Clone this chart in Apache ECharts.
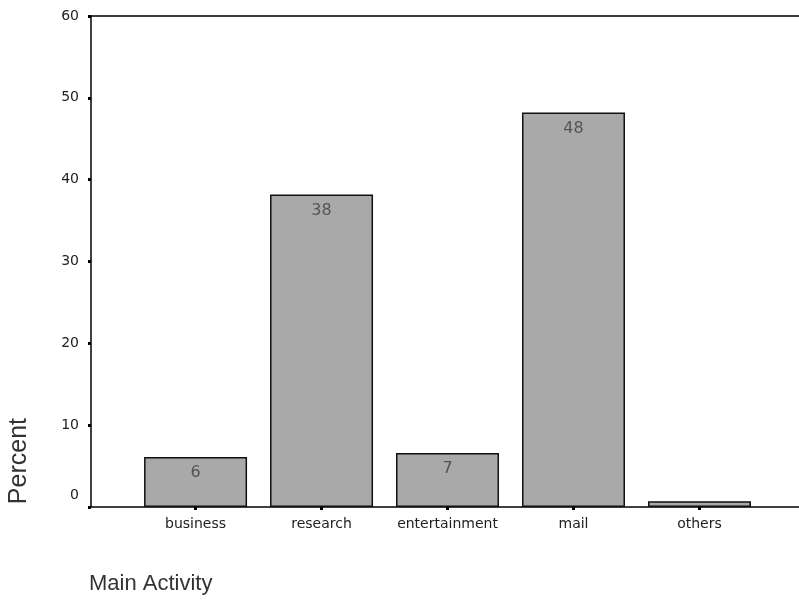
<!DOCTYPE html>
<html><head><meta charset="utf-8">
<script src="https://cdn.jsdelivr.net/npm/echarts@6/dist/echarts.min.js"></script>
<style>html,body{margin:0;padding:0;background:#fff}#c{width:799px;height:603px}</style>
</head><body><div id="c"></div>
<script>
const categories = ['business', 'research', 'entertainment', 'mail', 'others'];
const percentValues = [6.1, 38.2, 6.6, 48.2, 0.7];
const yTicks = [0, 10, 20, 30, 40, 50, 60];
const positions = categories.map((c, i) => i + 1);

const chart = echarts.init(document.getElementById('c'));
const font = 'DejaVu Sans, sans-serif';
const font2 = 'Liberation Sans, Arial, sans-serif';
chart.setOption({
  animation: false,
  grid: { left: 91, right: 0, top: 16, bottom: 96 },
  xAxis: [{
    type: 'value', min: 0.17, max: 5.79,
    splitLine: { show: false },
    axisLine: { show: true, onZero: false, lineStyle: { color: '#000', width: 1.5 } },
    axisTick: { show: true, customValues: positions, length: 3, lineStyle: { color: '#000', width: 3 } },
    axisLabel: { customValues: positions, formatter: v => categories[Math.round(v) - 1] || '',
      color: '#222', fontFamily: font, fontSize: 14, margin: 10 }
  }, {
    type: 'value', position: 'top', min: 0.17, max: 5.79,
    splitLine: { show: false },
    axisLine: { show: true, onZero: false, lineStyle: { color: '#000', width: 1.5 } },
    axisTick: { show: false }, axisLabel: { show: false }
  }],
  yAxis: {
    type: 'value', min: yTicks[0], max: yTicks[yTicks.length - 1], interval: 10,
    splitLine: { show: false },
    axisLine: { show: true, lineStyle: { color: '#000', width: 1.5 } },
    axisTick: { show: true, length: 3, lineStyle: { color: '#000', width: 3 } },
    axisLabel: { color: '#222', fontFamily: font, fontSize: 14, margin: 12,
      formatter: v => v === 0 ? '{z|0}' : String(v),
      rich: { z: { fontFamily: font, fontSize: 14, color: '#222', padding: [0, 0, 24, 0] } } }
  },
  graphic: [
    { type: 'text', left: 7, top: 418, rotation: Math.PI / 2,
      style: { text: 'Percent', fontFamily: font2, fontSize: 25, fill: '#333' } },
    { type: 'text', left: 89, top: 573,
      style: { text: 'Main Activity', fontFamily: font2, fontSize: 22, fill: '#333' } }
  ],
  series: [{
    type: 'bar', xAxisIndex: 0,
    data: positions.map((p, i) => [p, percentValues[i]]),
    barWidth: 103,
    itemStyle: { color: '#a9a9a9', borderColor: '#111', borderWidth: 1.5 },
    label: { show: true, position: 'insideTop', distance: 8, color: '#555',
      fontFamily: font, fontSize: 16,
      formatter: p => p.value[1] < 1 ? '' : String(Math.round(p.value[1])) }
  }]
});
</script></body></html>
